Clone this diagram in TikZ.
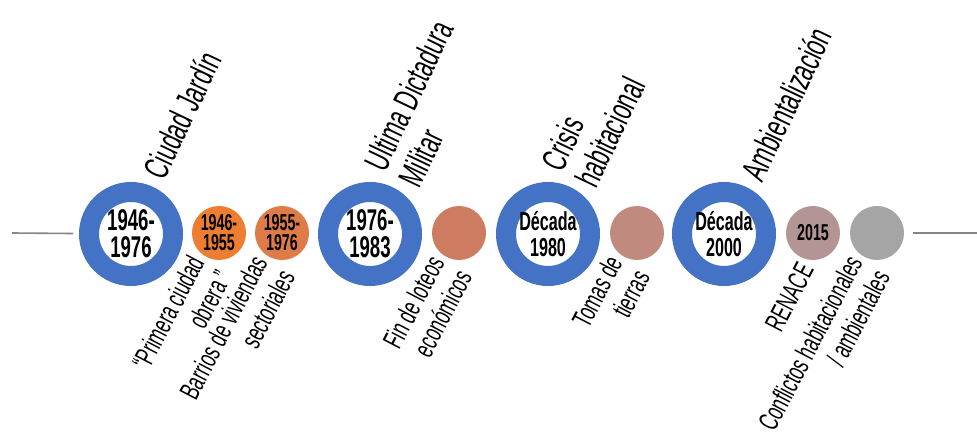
\documentclass[tikz,border=0pt]{standalone}
\usepackage{fontspec}
\setmainfont{Liberation Sans}[FakeStretch=0.62]
\usepackage{tikz}
\usetikzlibrary{calc}

\definecolor{ringblue}{HTML}{4472C4}
\definecolor{dotA}{HTML}{ED7D31}
\definecolor{dotB}{HTML}{DF7B47}
\definecolor{dotC}{HTML}{CD7C62}
\definecolor{dotD}{HTML}{C08B7E}
\definecolor{dotE}{HTML}{B39594}
\definecolor{dotF}{HTML}{A5A5A5}
\definecolor{axisgray}{HTML}{858585}

\tikzset{
  ring/.style={circle,draw=ringblue,line width=20pt,minimum size=84pt,inner sep=0pt,
    align=center,font=\bfseries\fontsize{30}{27}\selectfont},
  decade/.style={ring,font=\bfseries\fontsize{26}{26}\selectfont},
  dot/.style={circle,minimum size=54pt,inner sep=0pt,align=center,
    font=\bfseries\fontsize{23}{20}\selectfont},
  period/.style={rotate=64.5,anchor=west,align=left,inner sep=0pt,
    font=\fontsize{35}{38}\selectfont},
  event/.style={rotate=62.5,anchor=east,align=right,inner sep=0pt,
    font=\fontsize{28}{31}\selectfont},
  axis/.style={axisgray,line width=1.6pt}
}

\begin{document}
\begin{tikzpicture}[x=1pt,y=1pt]
          \useasboundingbox (0,-200) rectangle (977,233);
          %\draw[very thin,lightgray] (0,-200) grid[step=50] (977,233);
          % big rings
          \node[ring]   (y1) at (131,-1) {1946-\\1976};
          \node[ring]   (y2) at (370,-1) {1976-\\1983};
          \node[decade] (y3) at (548,-1) {Década\\1980};
          \node[decade] (y4) at (724,-1) {Década\\2000};
          % small dots
          \node[dot,fill=dotA] (d1) at (219,0) {1946-\\1955};
          \node[dot,fill=dotB] (d2) at (282,0) {1955-\\1976};
          \node[dot,fill=dotC] (d3) at (459,0) {};
          \node[dot,fill=dotD] (d4) at (637,0) {};
          \node[dot,fill=dotE] (d5) at (813,0) {2015};
          \node[dot,fill=dotF] (d6) at (877,0) {};
          % the axis ends
          \coordinate (lbeg) at (12,0);
          \coordinate (rend) at (977,0);
          \draw[axis,shorten >=6pt] (lbeg)--(y1);
          \draw[axis,shorten <=9pt] (d6)--(rend);
          % periods above
          \node[period] (p1) at (153,57) {Ciudad Jardín};
          \node[period] (p2) at (391,57) {Ultima Dictadura\\Militar};
          \node[period] (p3) at (568,57) {Crisis\\habitacional};
          \node[period] (p4) at (751,55) {Ambientalización};
          % events below
          \node[event] (e1) at (210,-32) {``Primera ciudad\\obrera ''};
          \node[event] (e2) at (273,-32) {Barrios de viviendas\\sectoriales};
          \node[event] (e3) at (450,-32) {Fin de loteos\\económicos};
          \node[event] (e4) at (628,-32) {Tomas de\\tierras};
          \node[event] (e5) at (806,-32) {RENACE};
          \node[event] (e6) at (868,-32) {Conflictos habitacionales\\/ ambientales};
        \end{tikzpicture}
\end{document}
